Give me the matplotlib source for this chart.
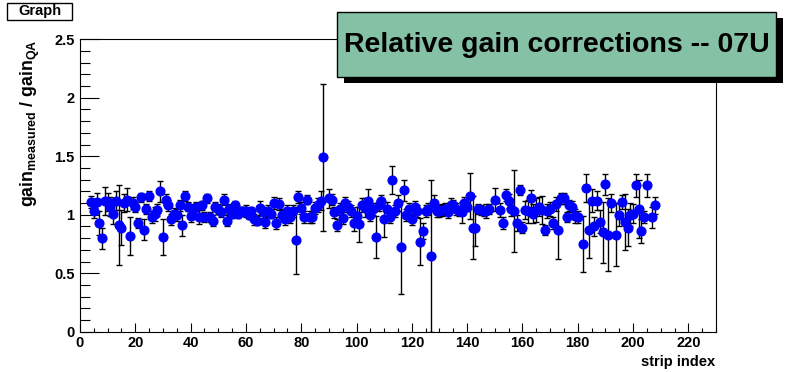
import matplotlib
matplotlib.use('Agg')
import matplotlib.pyplot as plt
from matplotlib.patches import Rectangle
from matplotlib.ticker import MultipleLocator

plt.rcParams['font.family'] = 'Liberation Sans'
plt.rcParams['font.weight'] = 'bold'
plt.rcParams['mathtext.fontset'] = 'custom'
plt.rcParams['mathtext.rm'] = 'Liberation Sans:bold'
plt.rcParams['mathtext.bf'] = 'Liberation Sans:bold'
plt.rcParams['mathtext.default'] = 'bf'

# strip index, relative gain, error
strip = [4, 5, 6, 7, 8, 9, 10, 11, 12, 13, 14, 15, 16, 17, 18, 19, 20, 21, 22, 23,
         24, 25, 26, 27, 28, 29, 30, 31, 32, 33, 34, 35, 36, 37, 38, 39, 40, 41, 42, 43,
         44, 45, 46, 47, 48, 49, 50, 51, 52, 53, 54, 55, 56, 57, 58, 59, 60, 61, 62, 63,
         64, 65, 66, 67, 68, 69, 70, 71, 72, 73, 74, 75, 76, 77, 78, 79, 80, 81, 82, 83,
         84, 85, 86, 87, 88, 90, 91, 92, 93, 94, 95, 96, 97, 98, 99, 100, 101, 102, 103, 104,
         105, 106, 107, 108, 109, 110, 111, 112, 113, 114, 115, 116, 117, 118, 119, 120, 121, 122, 123, 124,
         125, 126, 127, 128, 129, 130, 131, 132, 133, 134, 135, 136, 137, 138, 139, 140, 141, 142, 143, 144,
         145, 146, 147, 148, 150, 152, 153, 154, 155, 156, 157, 158, 159, 160, 161, 162, 163, 164, 165, 166,
         167, 168, 169, 170, 171, 172, 173, 174, 175, 176, 177, 178, 179, 180, 182, 183, 184, 185, 186, 187,
         188, 189, 190, 191, 192, 194, 195, 196, 197, 198, 199, 200, 201, 202, 203, 204, 205, 207, 208]
gain = [1.11, 1.03, 1.11, 0.93, 0.80, 1.12, 1.11, 1.07, 1.01, 1.12, 0.91, 0.89, 1.10, 1.13, 0.82, 1.10, 1.07, 0.93, 1.15, 0.87,
        1.05, 1.16, 0.98, 1.01, 1.04, 1.20, 0.81, 1.13, 1.08, 0.96, 1.01, 1.00, 1.08, 0.91, 1.16, 1.07, 0.99, 1.05, 1.07, 0.98,
        1.08, 0.98, 1.14, 0.98, 0.95, 1.07, 1.05, 1.02, 1.13, 0.95, 1.05, 1.01, 1.08, 1.01, 1.03, 1.03, 1.03, 1.00, 1.03, 0.96,
        0.95, 1.06, 1.02, 0.94, 1.03, 1.01, 1.10, 0.93, 1.09, 1.00, 0.96, 1.03, 0.98, 1.03, 0.78, 1.15, 1.06, 0.98, 1.13, 0.98,
        0.98, 1.06, 1.08, 1.12, 1.49, 1.14, 1.13, 1.02, 0.91, 1.05, 0.97, 1.10, 1.07, 1.03, 0.93, 0.99, 0.92, 1.08, 1.06, 1.12,
        1.00, 1.05, 0.81, 1.08, 1.12, 0.96, 1.05, 0.98, 1.30, 1.03, 1.10, 0.72, 1.21, 1.00, 1.05, 0.96, 1.07, 1.03, 0.77, 0.86,
        1.03, 1.05, 0.65, 1.10, 1.03, 1.03, 1.04, 1.05, 1.02, 1.08, 1.08, 1.05, 1.03, 1.02, 1.10, 1.07, 1.16, 0.89, 0.89, 1.05,
        1.04, 1.03, 1.03, 1.05, 1.13, 1.04, 0.93, 1.17, 1.12, 1.05, 1.03, 0.93, 1.21, 0.89, 1.04, 1.03, 1.14, 1.01, 1.04, 1.07,
        1.04, 0.87, 1.03, 1.05, 0.93, 1.09, 0.87, 1.14, 1.14, 0.98, 1.08, 1.07, 0.99, 0.98, 0.75, 1.23, 0.87, 1.12, 0.90, 1.12,
        0.94, 0.85, 1.26, 0.83, 1.10, 0.83, 1.00, 1.11, 0.94, 0.89, 1.00, 1.01, 1.25, 1.05, 0.86, 0.98, 1.25, 0.98, 1.08]
err = [0.05, 0.06, 0.08, 0.10, 0.09, 0.12, 0.08, 0.08, 0.09, 0.08, 0.34, 0.15, 0.08, 0.10, 0.16, 0.05, 0.05, 0.04, 0.04, 0.09,
       0.04, 0.04, 0.05, 0.06, 0.05, 0.09, 0.15, 0.05, 0.05, 0.05, 0.05, 0.05, 0.05, 0.09, 0.04, 0.04, 0.05, 0.04, 0.04, 0.06,
       0.04, 0.04, 0.04, 0.04, 0.05, 0.04, 0.04, 0.04, 0.05, 0.05, 0.04, 0.04, 0.04, 0.04, 0.04, 0.04, 0.05, 0.04, 0.04, 0.05,
       0.04, 0.06, 0.05, 0.05, 0.05, 0.04, 0.05, 0.05, 0.05, 0.05, 0.05, 0.05, 0.05, 0.05, 0.29, 0.05, 0.05, 0.05, 0.04, 0.05,
       0.05, 0.05, 0.06, 0.08, 0.63, 0.08, 0.05, 0.05, 0.05, 0.05, 0.05, 0.05, 0.05, 0.05, 0.07, 0.08, 0.15, 0.06, 0.08, 0.10,
       0.05, 0.05, 0.18, 0.05, 0.05, 0.15, 0.06, 0.05, 0.12, 0.05, 0.07, 0.40, 0.09, 0.05, 0.05, 0.05, 0.05, 0.05, 0.20, 0.07,
       0.05, 0.05, 0.65, 0.07, 0.05, 0.05, 0.05, 0.05, 0.05, 0.06, 0.05, 0.05, 0.04, 0.09, 0.05, 0.04, 0.20, 0.27, 0.16, 0.04,
       0.04, 0.04, 0.06, 0.04, 0.10, 0.06, 0.05, 0.05, 0.06, 0.06, 0.35, 0.07, 0.04, 0.05, 0.08, 0.10, 0.07, 0.08, 0.10, 0.08,
       0.12, 0.04, 0.06, 0.06, 0.05, 0.06, 0.25, 0.05, 0.05, 0.04, 0.05, 0.05, 0.06, 0.05, 0.24, 0.12, 0.24, 0.10, 0.08, 0.08,
       0.10, 0.26, 0.09, 0.31, 0.08, 0.27, 0.10, 0.06, 0.24, 0.16, 0.10, 0.08, 0.10, 0.25, 0.10, 0.05, 0.10, 0.09, 0.07]

fig = plt.figure(figsize=(7.96, 3.72), dpi=100)
ax = fig.add_axes([80 / 796, 1 - 331.7 / 372, 636 / 796, 292.4 / 372])

ax.errorbar(strip, gain, yerr=err, fmt='o', color='#0000ff', markersize=6.3,
            ecolor='black', elinewidth=1, capsize=2.3, capthick=1, zorder=3)

ax.set_xlim(0, 230)
ax.set_ylim(0, 2.5)
ax.xaxis.set_major_locator(MultipleLocator(20))
ax.xaxis.set_minor_locator(MultipleLocator(5))
ax.yaxis.set_major_locator(MultipleLocator(0.5))
ax.yaxis.set_minor_locator(MultipleLocator(0.1))
ax.tick_params(axis='both', which='both', direction='in', top=False, right=False,
               labelsize=10.5, width=0.8)
ax.tick_params(axis='y', which='major', length=14, pad=4)
ax.tick_params(axis='y', which='minor', length=7)
ax.tick_params(axis='x', which='major', length=6.3, pad=3)
ax.tick_params(axis='x', which='minor', length=3.2)
ax.set_yticks([0, 0.5, 1, 1.5, 2, 2.5])
ax.set_yticklabels(['0', '0.5', '1', '1.5', '2', '2.5'])
for s in ax.spines.values():
    s.set_linewidth(0.8)

fig.text(0.038, 0.894, 'gain$_{measured}$ / gain$_{QA}$', rotation=90,
         ha='center', va='top', fontsize=12.8, fontweight='bold')
fig.text(715 / 796, 1 - 362 / 372, 'strip index', ha='right', va='center',
         fontsize=10.5, fontweight='bold')

# "Graph" box top-left
fig.patches.append(Rectangle((7 / 796, 1 - 20 / 372), 65 / 796, 17 / 372,
                             transform=fig.transFigure, facecolor='white',
                             edgecolor='black', linewidth=1, zorder=5))
fig.text(39.5 / 796, 1 - 11.5 / 372, 'Graph', ha='center', va='center',
         fontsize=10.5, fontweight='bold', zorder=6)

# title box with shadow
fig.patches.append(Rectangle((344 / 796, 1 - 83 / 372), 439 / 796, 65 / 372,
                             transform=fig.transFigure, facecolor='black',
                             edgecolor='none', zorder=5))
fig.patches.append(Rectangle((337 / 796, 1 - 77 / 372), 439 / 796, 65 / 372,
                             transform=fig.transFigure, facecolor='#85c2a5',
                             edgecolor='black', linewidth=1, zorder=6))
fig.text(556.5 / 796, 1 - 45.5 / 372, 'Relative gain corrections -- 07U',
         ha='center', va='center', fontsize=20.5, fontweight='bold', zorder=7)

fig.savefig('out.png', dpi=100)
